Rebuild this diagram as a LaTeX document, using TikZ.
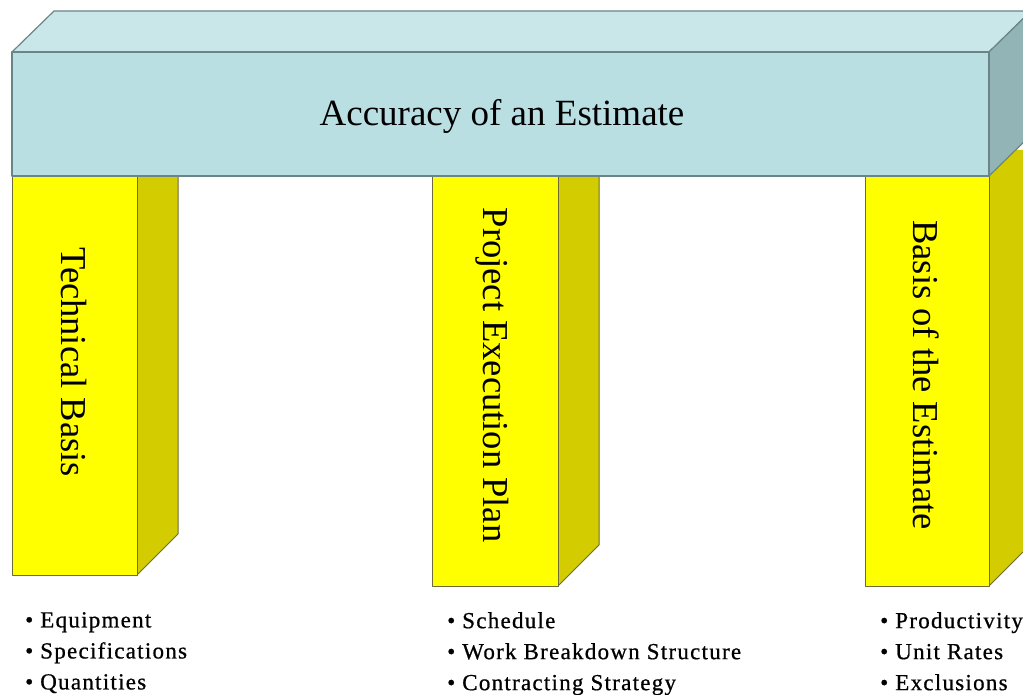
\documentclass[tikz,border=0pt]{standalone}
\usepackage{fontspec}
\setmainfont{Liberation Serif}
\newfontfamily\listfont[LetterSpace=5.5,FakeBold=0.7]{Liberation Serif}
\definecolor{slabfront}{HTML}{B9DFE3}
\definecolor{slabtop}{HTML}{C9E6E9}
\definecolor{slabside}{HTML}{93B4B6}
\definecolor{slabedge}{HTML}{6A8587}
\definecolor{pilfront}{HTML}{FFFF00}
\definecolor{pilside}{HTML}{D2CC00}
\definecolor{piledge}{HTML}{6E6A3A}
\begin{document}
\begin{tikzpicture}[x=1pt,y=-1pt,
  slabface/.style={draw=slabedge,line width=1.2pt,line join=round},
  pilface/.style={draw=piledge,line width=1pt,line join=round},
  vlabel/.style={rotate=-90,font=\fontsize{36.5}{40}\selectfont,inner sep=0pt},
  blist/.style={anchor=north west,align=left,inner sep=0pt,font=\listfont\fontsize{23}{31}\selectfont}]
\useasboundingbox (0,0) rectangle (1023,695);
\clip (0,0) rectangle (1023,695);
% pillars: side faces and fronts
\foreach \xl/\xr/\yb in {12/137/575, 432/558/586, 865/989/586}{
  \fill[pilside] (\xr,150) -- (\xr+41,150) -- (\xr+41,\yb-41) -- (\xr,\yb) -- cycle;
  \draw[pilface] (\xr+41,150) -- (\xr+41,\yb-41) -- (\xr,\yb);
  \filldraw[pilface,fill=pilfront] (\xl,150) rectangle (\xr,\yb);
}
% slab
\filldraw[slabface,fill=slabtop] (12,52) -- (54,11) -- (1031,11) -- (989,52) -- cycle;
\filldraw[slabface,fill=slabside] (989,52) -- (1031,11) -- (1031,135) -- (989,176) -- cycle;
\filldraw[slabface,fill=slabfront] (12,52) rectangle (989,176);
% texts
\node[font=\fontsize{37}{40}\selectfont,inner sep=0pt,anchor=base] (acc) at (502,126) {Accuracy of an Estimate};
\node[vlabel] (tech) at (74,362) {Technical Basis};
\node[vlabel] (pep) at (492,375) {Project Execution Plan};
\node[vlabel] (boe) at (926,375) {Basis of the Estimate};
\node[blist] (l1) at (25,612) {• Equipment\\• Specifications\\• Quantities};
\node[blist] (l2) at (447,612) {• Schedule\\• Work Breakdown Structure\\• Contracting Strategy};
\node[blist] (l3) at (880,612) {• Productivity\\• Unit Rates\\• Exclusions};
\end{tikzpicture}
\end{document}
